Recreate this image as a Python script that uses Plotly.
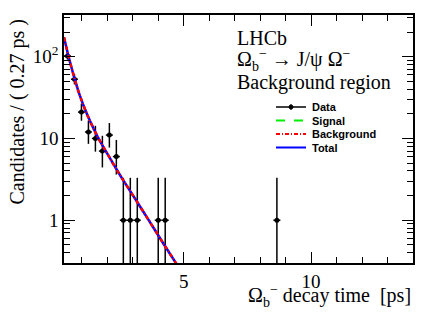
import math
import plotly.graph_objects as go

# ---------------- data ----------------
x_lo, x_hi, n_bins = 0.3, 14.0, 50
counts = [102, 53, 21, 12, 10, 7, 11, 6, 1, 1, 1, 0, 0, 1, 1,
          0, 0, 0, 0, 0, 0, 0, 0, 0, 0, 0, 0, 0, 0, 0,
          1, 0, 0, 0, 0, 0, 0, 0, 0, 0, 0, 0, 0, 0, 0,
          0, 0, 0, 0, 0]

# fit curves (decay time [ps], candidates / bin)
curve_t = [0.3, 0.5, 0.7, 0.9, 1.2, 1.6, 2.0, 2.5, 3.0, 3.6, 4.2, 4.8]
total_y = [173, 95, 56, 35, 19.9, 10.8, 6.5, 3.56, 2.03, 1.03, 0.52, 0.266]
background_y = [173, 95, 56, 35, 19.9, 10.8, 6.5, 3.56, 2.03, 1.03, 0.52, 0.266]
signal_t = []
signal_y = []

y_ticks = [1, 10, 100]
y_ticktext = ["1", "10", "10<sup>2</sup>"]

# ---------------- helpers ----------------
bin_w = (x_hi - x_lo) / n_bins
centers = [x_lo + (i + 0.5) * bin_w for i in range(n_bins)]


def pois_cdf(k, mu):
    term = math.exp(-mu)
    s = term
    for i in range(1, k + 1):
        term *= mu / i
        s += term
    return s


def bisect(f, a, b, target, increasing):
    for _ in range(200):
        m = 0.5 * (a + b)
        v = f(m)
        if (v < target) == increasing:
            a = m
        else:
            b = m
    return 0.5 * (a + b)


alpha = 0.158655
px, py, ep, em = [], [], [], []
for c, n in zip(centers, counts):
    if n <= 0:
        continue
    up = bisect(lambda mu: pois_cdf(n, mu), n, n + 10 * math.sqrt(n) + 10, alpha, False)
    lo = bisect(lambda mu: pois_cdf(n - 1, mu), 0.0, n, 1 - alpha, False)
    px.append(c)
    py.append(n)
    ep.append(up - n)
    em.append(n - lo)

fig = go.Figure()
fig.add_trace(go.Scatter(
    x=px, y=py, mode="markers",
    marker=dict(color="black", size=5),
    error_y=dict(type="data", symmetric=False, array=ep, arrayminus=em,
                 color="black", thickness=1.5, width=0),
    error_x=dict(type="constant", value=bin_w / 2, color="black",
                 thickness=1.5, width=0),
    showlegend=False, name="Data"))
fig.add_trace(go.Scatter(x=signal_t, y=signal_y, mode="lines",
                         line=dict(color="#00ee00", width=2, dash="dash"),
                         showlegend=False, name="Signal"))
fig.add_trace(go.Scatter(x=curve_t, y=total_y, mode="lines", line_shape="spline",
                         line=dict(color="#0000ff", width=2.5),
                         showlegend=False, name="Total"))
fig.add_trace(go.Scatter(x=curve_t, y=background_y, mode="lines", line_shape="spline",
                         line=dict(color="#ff0000", width=2.5, dash="4px,2px,1px,2px"),
                         showlegend=False, name="Background"))

# ---------------- layout ----------------
W, H = 436, 313
ml, mr, mt, mb = 64, 23, 15, 50
pw, ph = W - ml - mr, H - mt - mb


def pxx(x):
    return (x - ml) / pw


def pxy(y):
    return (H - mb - y) / ph


serif = "Liberation Serif"
sans = "Liberation Sans"

y_minor = [v * 10 ** d for d in (-1, 0, 1, 2) for v in range(2, 10)]

fig.update_layout(
    width=W, height=H,
    margin=dict(l=ml, r=mr, t=mt, b=mb),
    paper_bgcolor="white", plot_bgcolor="white",
    font=dict(family=serif, size=19, color="black"),
    xaxis=dict(range=[x_lo, x_hi], showgrid=False, zeroline=False,
               showline=True, linecolor="black", linewidth=1.5, mirror="ticks",
               ticks="inside", ticklen=11, tickwidth=1, tickcolor="black",
               tick0=0, dtick=5, tickfont=dict(family=serif, size=19),
               minor=dict(ticks="inside", ticklen=6, dtick=1, tick0=0,
                          tickcolor="black", tickwidth=1, showgrid=False)),
    yaxis=dict(type="log", range=[math.log10(0.3), 2.509], showgrid=False,
               zeroline=False, showline=True, linecolor="black", linewidth=1.5,
               mirror="ticks", ticks="inside", ticklen=11, tickwidth=1,
               tickcolor="black", tickmode="array", tickvals=y_ticks,
               ticktext=y_ticktext, tickfont=dict(family=serif, size=19),
               minor=dict(ticks="inside", ticklen=6, tickmode="array",
                          tickvals=y_minor, tickcolor="black", tickwidth=1,
                          showgrid=False)),
)

ann = []
ann.append(dict(text="LHCb", x=pxx(235), y=pxy(38), xref="paper", yref="paper",
                xanchor="left", yanchor="middle", showarrow=False,
                font=dict(family=serif, size=20)))
ann.append(dict(text="Ω<sub>b</sub><sup>−</sup> → J/ψ Ω<sup>−</sup>",
                x=pxx(235), y=pxy(60), xref="paper", yref="paper",
                xanchor="left", yanchor="middle", showarrow=False,
                font=dict(family=serif, size=20)))
ann.append(dict(text="Background region", x=pxx(235), y=pxy(82), xref="paper",
                yref="paper", xanchor="left", yanchor="middle", showarrow=False,
                font=dict(family=serif, size=20)))
ann.append(dict(text="Candidates / ( 0.27 ps )", textangle=-90, x=0, y=1,
                xref="paper", yref="paper", xanchor="right", yanchor="top",
                xshift=-34, yshift=-2, showarrow=False,
                font=dict(family=serif, size=20)))
ann.append(dict(text="Ω<sub>b</sub><sup>−</sup> decay time\u00a0\u00a0[ps]",
                x=1, y=pxy(296), xref="paper", yref="paper", xanchor="right",
                yanchor="middle", showarrow=False,
                font=dict(family=serif, size=20)))

# manual legend (decoration)
leg_rows = [("Data", 107), ("Signal", 120.5), ("Background", 134), ("Total", 147.5)]
leg_style = {
    "Data": dict(color="black", width=1.5, dash="solid"),
    "Signal": dict(color="#00ee00", width=2, dash="dash"),
    "Background": dict(color="#ff0000", width=2, dash="4px,2px,1px,2px"),
    "Total": dict(color="#0000ff", width=2, dash="solid"),
}
shapes = []
for name, yy in leg_rows:
    shapes.append(dict(type="line", xref="paper", yref="paper",
                       x0=pxx(276), x1=pxx(306), y0=pxy(yy), y1=pxy(yy),
                       line=leg_style[name]))
    ann.append(dict(text="<b>" + name + "</b>", x=pxx(310), y=pxy(yy),
                    xref="paper", yref="paper", xanchor="left", yanchor="middle",
                    showarrow=False, font=dict(family=sans, size=11)))
shapes.append(dict(type="circle", xref="paper", yref="paper",
                   x0=pxx(289), x1=pxx(293), y0=pxy(105), y1=pxy(109),
                   fillcolor="black", line=dict(color="black", width=1)))
shapes.append(dict(type="line", xref="paper", yref="paper",
                   x0=pxx(291), x1=pxx(291), y0=pxy(104), y1=pxy(110),
                   line=dict(color="black", width=1)))

fig.update_layout(annotations=ann, shapes=shapes)
fig.write_html("out.html",
               config={"displayModeBar": False},
               post_script="document.body.style.margin='0';"
                           "document.body.style.overflow='hidden';")
